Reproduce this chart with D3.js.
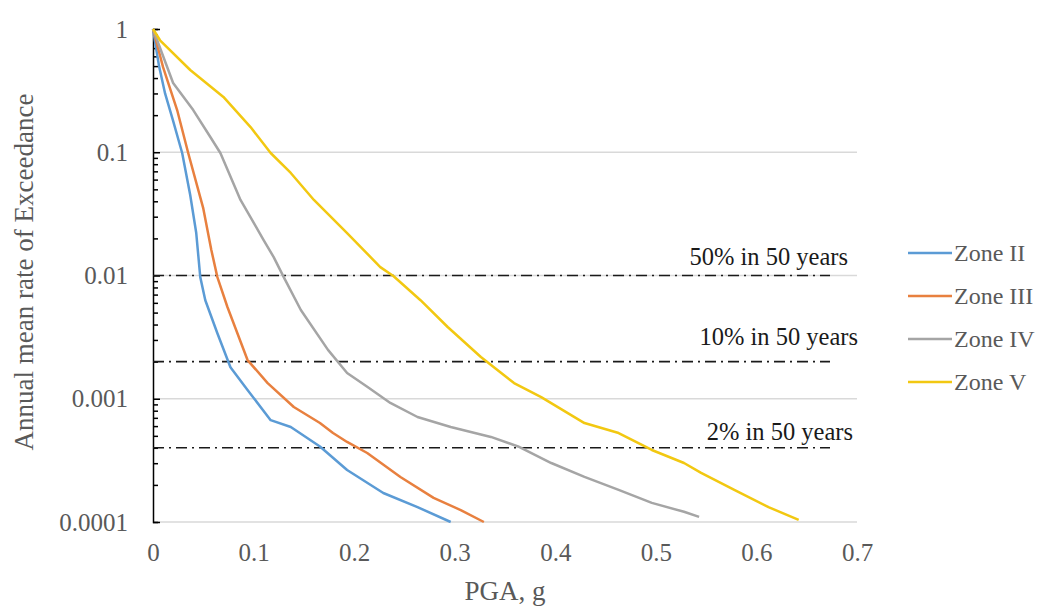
<!DOCTYPE html>
<html>
<head>
<meta charset="utf-8">
<script src="https://cdn.jsdelivr.net/npm/d3@7"></script>
<style>
  body { margin: 0; background: #fff; }
  svg { display: block; }
  svg text { font-family: "Liberation Serif", "Times New Roman", Times, "DejaVu Serif", serif !important; }
</style>
</head>
<body>
<svg id="chart" width="1047" height="606"></svg>
<script>
const zones = ['Zone II', 'Zone III', 'Zone IV', 'Zone V'];
const colors = ['#5b9bd5', '#e8803f', '#a5a5a5', '#f2c811'];

// [PGA g, annual rate]
const zone2 = [[0, 1], [0.006, 0.5], [0.012, 0.3], [0.020, 0.18], [0.029, 0.0986], [0.037, 0.045], [0.043, 0.0221],
  [0.047, 0.0097], [0.052, 0.0063], [0.064, 0.0034], [0.077, 0.0018], [0.094, 0.00118], [0.117, 0.00067],
  [0.137, 0.00059], [0.166, 0.00041], [0.193, 0.000264], [0.229, 0.000172], [0.263, 0.000132], [0.296, 0.0001]];
const zone3 = [[0, 1], [0.010, 0.49], [0.024, 0.22], [0.035, 0.0986], [0.050, 0.035], [0.058, 0.0161], [0.064, 0.0097],
  [0.074, 0.00555], [0.094, 0.00206], [0.114, 0.00134], [0.140, 0.000857], [0.166, 0.000635], [0.179, 0.000527],
  [0.193, 0.000446], [0.213, 0.000363], [0.246, 0.000232], [0.279, 0.000157], [0.306, 0.000125], [0.329, 0.0001]];
const zone4 = [[0, 1], [0.020, 0.365], [0.040, 0.22], [0.057, 0.133], [0.067, 0.0986], [0.087, 0.041], [0.110, 0.0194],
  [0.120, 0.0141], [0.130, 0.0097], [0.147, 0.00525], [0.174, 0.00249], [0.193, 0.00162], [0.213, 0.00125],
  [0.236, 0.000924], [0.263, 0.000711], [0.296, 0.00059], [0.336, 0.00049], [0.363, 0.00041], [0.396, 0.000301],
  [0.429, 0.000232], [0.463, 0.000182], [0.496, 0.000143], [0.528, 0.000121], [0.543, 0.00011]];
const zone5 = [[0, 1], [0.007, 0.81], [0.037, 0.465], [0.070, 0.281], [0.097, 0.160], [0.117, 0.0986], [0.137, 0.0679],
  [0.160, 0.041], [0.193, 0.0221], [0.226, 0.0117], [0.239, 0.0099], [0.266, 0.0063], [0.293, 0.00382],
  [0.326, 0.00218], [0.359, 0.00134], [0.386, 0.00103], [0.429, 0.000635], [0.463, 0.000527], [0.496, 0.000384],
  [0.528, 0.000301], [0.545, 0.00025], [0.578, 0.000182], [0.612, 0.000132], [0.642, 0.000104]];
const series = [zone2, zone3, zone4, zone5];

const xTicks = [0, 0.1, 0.2, 0.3, 0.4, 0.5, 0.6, 0.7];
const yTicks = [1, 0.1, 0.01, 0.001, 0.0001];
const yLabels = ['1', '0.1', '0.01', '0.001', '0.0001'];
const levels = [0.01, 0.002, 0.0004];
const levelLabels = ['50% in 50 years', '10% in 50 years', '2% in 50 years'];

const svg = d3.select('#chart');
const x = d3.scaleLinear().domain([0, 0.7]).range([153, 857]);
const y = d3.scaleLog().domain([0.0001, 1]).range([522, 29]);

// gridlines
svg.append('g').selectAll('line').data(yTicks.slice(1)).join('line')
  .attr('x1', x(0)).attr('x2', x(0.7))
  .attr('y1', (d) => y(d)).attr('y2', (d) => y(d))
  .attr('stroke', '#d9d9d9').attr('stroke-width', 1.3);

// x axis labels
const xAxis = svg.append('g').attr('transform', `translate(0,${y(0.0001)})`)
  .call(d3.axisBottom(x).tickValues(xTicks).tickSize(0).tickPadding(21).tickFormat((d) => String(+d.toFixed(1))));
xAxis.select('.domain').remove();
xAxis.selectAll('text').attr('font-size', 25).attr('fill', '#595959');

// y axis labels
const yAxis = svg.append('g').attr('transform', `translate(${x(0)},0)`)
  .call(d3.axisLeft(y).tickValues(yTicks).tickSize(0).tickPadding(25).tickFormat((d, i) => yLabels[i]));
yAxis.select('.domain').remove();
yAxis.selectAll('text').attr('font-size', 25).attr('fill', '#595959');

// y axis line + inside ticks
const minor = [];
for (let e = -4; e < 0; e++) for (let m = 2; m <= 9; m++) minor.push(m * Math.pow(10, e));
const yLine = svg.append('g').attr('transform', `translate(${x(0)},0)`)
  .call(d3.axisRight(y).tickValues(minor).tickSize(5).tickFormat(''));
yLine.select('.domain').attr('stroke', '#000').attr('stroke-width', 1.5);
yLine.selectAll('.tick line').attr('stroke', '#000').attr('stroke-width', 1.5);
svg.append('g').attr('transform', `translate(${x(0)},0)`)
  .call(d3.axisRight(y).tickValues(yTicks).tickSize(7).tickFormat(''))
  .call((g) => g.select('.domain').remove())
  .selectAll('.tick line').attr('stroke', '#000').attr('stroke-width', 1.5);

// reference levels
svg.append('g').selectAll('line').data(levels).join('line')
  .attr('x1', x(0)).attr('x2', 830)
  .attr('y1', (d) => y(d)).attr('y2', (d) => y(d))
  .attr('stroke', '#1a1a1a').attr('stroke-width', 1.6)
  .attr('stroke-dasharray', '11,5,2,5');
const labelRight = [848, 858, 853];
const labelDy = [-11, -17, -8];
svg.append('g').selectAll('text').data(levels).join('text')
  .attr('x', (d, i) => labelRight[i]).attr('y', (d, i) => y(d) + labelDy[i])
  .attr('text-anchor', 'end').attr('font-size', 24.5).attr('fill', '#1a1a1a')
  .text((d, i) => levelLabels[i]);

// curves
const line = d3.line().x((d) => x(d[0])).y((d) => y(d[1]));
svg.append('g').selectAll('path').data(series).join('path')
  .attr('fill', 'none').attr('stroke', (d, i) => colors[i]).attr('stroke-width', 2.5)
  .attr('stroke-linejoin', 'round').attr('d', line);

// axis titles
svg.append('text').attr('x', x(0.35)).attr('y', 600).attr('text-anchor', 'middle')
  .attr('font-size', 27).attr('fill', '#595959').text('PGA, g');
svg.append('text').attr('transform', `translate(33,${272}) rotate(-90)`).attr('text-anchor', 'middle')
  .attr('font-size', 27).attr('fill', '#595959').text('Annual mean rate of Exceedance');

// legend
const legend = svg.append('g').selectAll('g').data(zones).join('g')
  .attr('transform', (d, i) => `translate(908,${253 + i * 43})`);
legend.append('line').attr('x1', 0).attr('x2', 44).attr('stroke', (d, i) => colors[i]).attr('stroke-width', 2.5);
legend.append('text').attr('x', 46).attr('dy', '0.35em').attr('font-size', 24).attr('fill', '#595959').text((d) => d);
</script>
</body>
</html>
